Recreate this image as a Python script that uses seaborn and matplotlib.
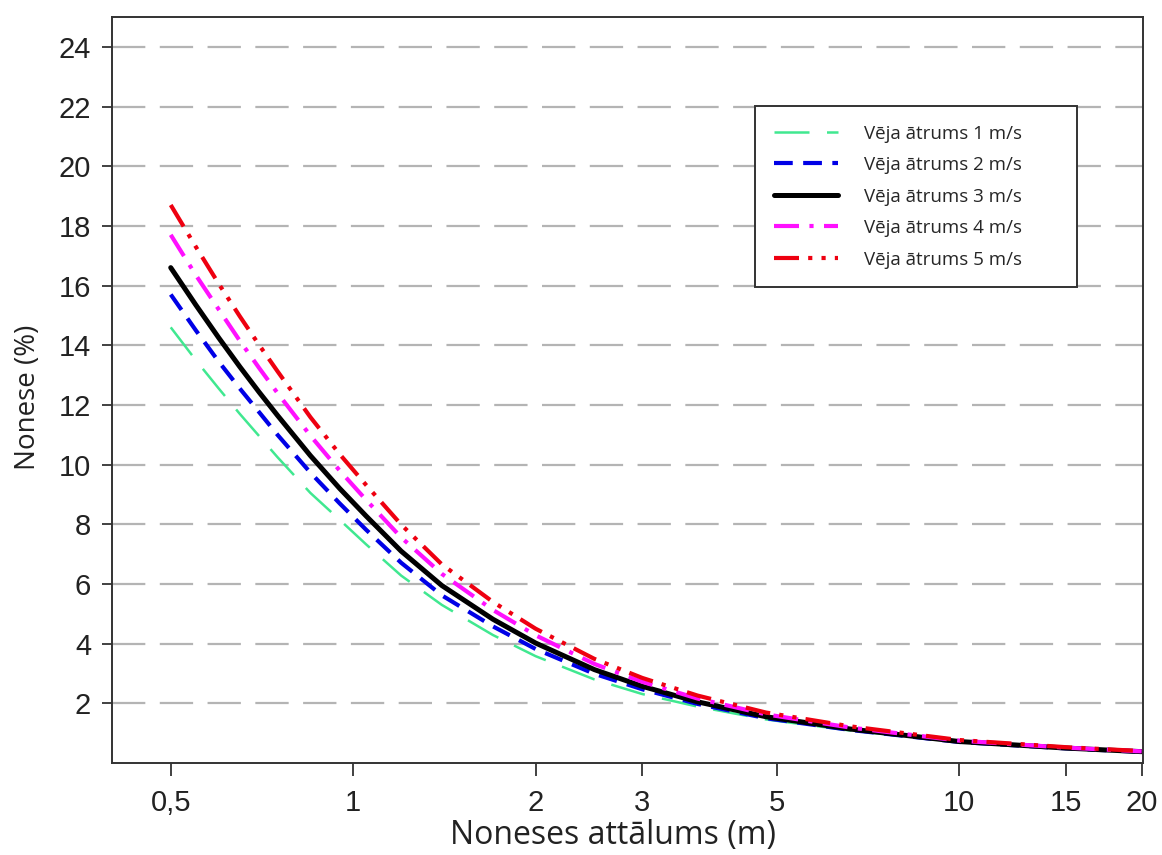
import numpy as np
import pandas as pd
import matplotlib
matplotlib.use("Agg")
import matplotlib.pyplot as plt
import seaborn as sns

# distance (m) and drift (%)
distance = [0.5, 0.55, 0.6, 0.65, 0.7, 0.75, 0.85, 0.95, 1.05, 1.2, 1.4, 1.7, 2, 2.5, 3, 3.7, 4.8, 6.6, 10, 15, 20]
wind_1 = [14.6, 13.5, 12.55, 11.7, 10.95, 10.25, 9.05, 8.15, 7.33, 6.28, 5.3, 4.29, 3.58, 2.8, 2.31, 1.89, 1.46, 1.09, 0.7, 0.485, 0.37]
wind_2 = [15.7, 14.5, 13.45, 12.55, 11.75, 11.0, 9.73, 8.7, 7.82, 6.71, 5.62, 4.58, 3.82, 2.99, 2.47, 1.98, 1.5, 1.11, 0.705, 0.49, 0.372]
wind_3 = [16.6, 15.35, 14.25, 13.28, 12.42, 11.65, 10.3, 9.2, 8.28, 7.1, 5.95, 4.82, 4.02, 3.13, 2.57, 2.05, 1.55, 1.14, 0.72, 0.5, 0.38]
wind_4 = [17.7, 16.35, 15.2, 14.15, 13.23, 12.4, 10.97, 9.8, 8.82, 7.56, 6.34, 5.13, 4.28, 3.32, 2.72, 2.16, 1.63, 1.19, 0.75, 0.515, 0.39]
wind_5 = [18.7, 17.3, 16.06, 14.97, 14.0, 13.13, 11.59, 10.35, 9.32, 7.99, 6.66, 5.4, 4.5, 3.49, 2.85, 2.26, 1.69, 1.23, 0.77, 0.53, 0.4]

labels = ["Vēja ātrums 1 m/s", "Vēja ātrums 2 m/s", "Vēja ātrums 3 m/s",
          "Vēja ātrums 4 m/s", "Vēja ātrums 5 m/s"]
x_ticks = [0.5, 1, 2, 3, 5, 10, 15, 20]
x_ticklabels = ["0,5", "1", "2", "3", "5", "10", "15", "20"]
y_ticks = [2, 4, 6, 8, 10, 12, 14, 16, 18, 20, 22, 24]

series = [wind_1, wind_2, wind_3, wind_4, wind_5]
colors = ["#40e890", "#0000e6", "#000000", "#ff10ff", "#ee0010"]
widths = [1.8, 3.0, 3.6, 3.0, 3.0]
styles = [(0, (14, 7)), (0, (4.5, 2.5)), "-", (0, (6, 2.5, 1, 2.5)),
          (0, (6, 2.2, 1, 2.2, 1, 2.2))]

sns.set_style("white")
fig = plt.figure(figsize=(11.62, 8.55), dpi=100)
ax = fig.add_axes([112 / 1162, 1 - 763 / 855, 1031 / 1162, 746 / 855])

for vals, lab, c, w, ls in zip(series, labels, colors, widths, styles):
    df = pd.DataFrame({"dist": distance, "drift": vals})
    sns.lineplot(data=df, x="dist", y="drift", ax=ax, color=c, lw=w,
                 linestyle=ls, label=lab, estimator=None)

ax.set_xscale("log")
ax.set_xlim(0.4, 20.1)
ax.set_ylim(0, 25)
ax.set_xticks(x_ticks)
ax.set_xticklabels(x_ticklabels)
ax.xaxis.set_minor_locator(matplotlib.ticker.NullLocator())
ax.set_yticks(y_ticks)

for y in y_ticks:
    ax.axhline(y, color="#b4b4b4", lw=1.6, ls=(0, (15, 6.5)), zorder=0)

ax.tick_params(axis="both", direction="out", length=7, width=1.3, color="#333333",
               labelsize=21, pad=8, bottom=True, left=True)
ax.tick_params(axis="x", length=9, pad=10)
for t in ax.get_xticklabels() + ax.get_yticklabels():
    t.set_fontfamily("Liberation Sans")
    t.set_color("#222222")
for s in ax.spines.values():
    s.set_color("#333333")
    s.set_linewidth(1.4)

ax.set_xlabel("Noneses attālums (m)", fontsize=23, fontfamily="Open Sans", color="#222222",
              labelpad=1)
ax.xaxis.label.set_x(0.486)
ax.set_ylabel("Nonese (%)", fontsize=20, fontfamily="Open Sans", color="#222222",
              labelpad=12)
ax.yaxis.label.set_y(0.49)

leg = ax.legend(loc="upper left", bbox_to_anchor=(0.624, 0.638, 0.312, 0.243),
                mode="expand", borderaxespad=0, fancybox=False, framealpha=1,
                edgecolor="#333333", prop={"family": "Open Sans", "size": 13.5},
                handlelength=3.4, handletextpad=1.4, labelspacing=0.72, borderpad=1.0)
leg.get_frame().set_linewidth(1.4)

fig.savefig("out.png", dpi=100)
